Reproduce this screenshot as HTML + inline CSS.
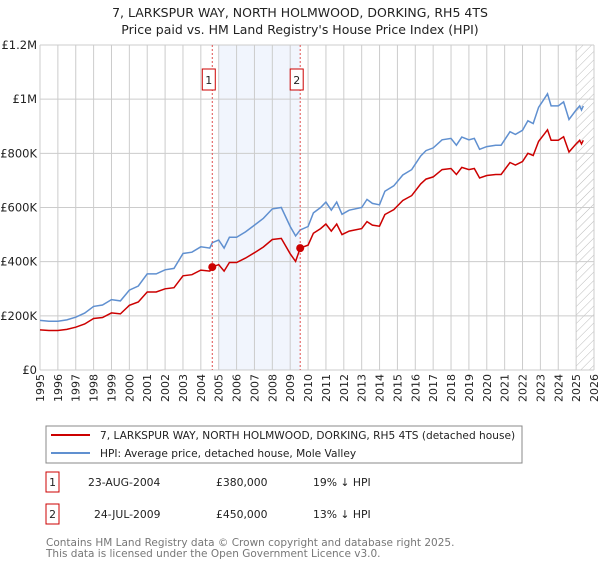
<!DOCTYPE html>
<html><head><meta charset="utf-8"><style>
body{margin:0;background:#fff;font-family:"Liberation Sans","DejaVu Sans",sans-serif;}
svg text{font-family:"DejaVu Sans","Liberation Sans",sans-serif;}
</style></head><body>
<svg id="chart" width="600" height="560" xmlns="http://www.w3.org/2000/svg">
<defs><pattern id="hatch" width="6" height="6" patternUnits="userSpaceOnUse" patternTransform="rotate(45)"><line x1="0" y1="0" x2="0" y2="6" stroke="#bbb" stroke-width="1"/></pattern></defs>
<text x="300" y="17" text-anchor="middle" font-size="12.5" fill="#222">7, LARKSPUR WAY, NORTH HOLMWOOD, DORKING, RH5 4TS</text>
<text x="300" y="34" text-anchor="middle" font-size="12.5" fill="#222">Price paid vs. HM Land Registry's House Price Index (HPI)</text>
<g id="grid"></g><g id="marks"></g><g id="axes"></g>
<g>
<rect x="46" y="426" width="476" height="37" fill="#fff" stroke="#888"/>
<line x1="51" y1="435" x2="90" y2="435" stroke="#cc0000" stroke-width="2"/>
<text x="100" y="439" font-size="10.6" fill="#222">7, LARKSPUR WAY, NORTH HOLMWOOD, DORKING, RH5 4TS (detached house)</text>
<line x1="51" y1="453" x2="90" y2="453" stroke="#6090d0" stroke-width="2"/>
<text x="100" y="457" font-size="10.6" fill="#222">HPI: Average price, detached house, Mole Valley</text>
</g>
<g font-size="10.8" fill="#222">
<rect x="46" y="472" width="13" height="20" fill="#fff" stroke="#cc0000"/><text x="52.5" y="486" text-anchor="middle">1</text>
<text x="88" y="486">23-AUG-2004</text><text x="216" y="486">£380,000</text><text x="313" y="486">19% ↓ HPI</text>
<rect x="46" y="504" width="13" height="20" fill="#fff" stroke="#cc0000"/><text x="52.5" y="518" text-anchor="middle">2</text>
<text x="94" y="518">24-JUL-2009</text><text x="216" y="518">£450,000</text><text x="313" y="518">13% ↓ HPI</text>
</g>
<text x="46" y="546" font-size="10.5" fill="#777">Contains HM Land Registry data © Crown copyright and database right 2025.</text>
<text x="46" y="557" font-size="10.5" fill="#777">This data is licensed under the Open Government Licence v3.0.</text>
</svg>
<script>
const years=[1995.0,1995.5,1996.0,1996.5,1997.0,1997.5,1998.0,1998.5,1999.0,1999.5,2000.0,2000.5,2001.0,2001.5,2002.0,2002.5,2003.0,2003.5,2004.0,2004.5,2004.64,2005.0,2005.3,2005.6,2006.0,2006.5,2007.0,2007.5,2008.0,2008.5,2009.0,2009.3,2009.56,2010.0,2010.3,2010.7,2011.0,2011.3,2011.6,2011.9,2012.3,2013.0,2013.3,2013.6,2014.0,2014.3,2014.8,2015.3,2015.8,2016.3,2016.6,2017.0,2017.5,2018.0,2018.3,2018.6,2019.0,2019.3,2019.6,2020.0,2020.5,2020.8,2021.3,2021.6,2022.0,2022.3,2022.6,2022.9,2023.2,2023.4,2023.6,2024.0,2024.3,2024.6,2025.0,2025.2,2025.3,2025.4];
const hpiValues=[183,180,180,185,195,210,235,240,260,255,295,310,355,355,370,375,430,435,455,450,470,480,450,490,490,510,535,560,595,600,530,495,517,530,580,600,620,590,620,575,590,600,630,615,610,660,680,720,740,790,810,820,850,855,830,860,850,855,815,825,830,830,880,870,885,920,910,970,1000,1020,975,975,990,925,960,975,960,975];
const propertyValues=[148,146,146,150,158,170,190,194,211,207,239,251,288,288,300,304,348,352,369,365,380,389,365,397,397,413,433,454,482,486,429,401,450,461,505,522,539,513,539,500,513,522,548,535,531,574,592,626,644,687,705,713,740,744,722,748,740,744,709,718,722,722,766,757,770,800,792,844,870,887,848,848,861,805,835,848,835,848];
const saleYears=[2004.64,2009.56];
const saleValues=[380,450];
const saleLabels=["1","2"];
const yTicks=[0,200,400,600,800,1000,1200];
const yTickLabels=["£0","£200K","£400K","£600K","£800K","£1M","£1.2M"];
const xStart=1995,xEnd=2026,shadeStart=2005.0,forecastStart=2025.0;
const X0=40,X1=594,Y0=370,Y1=45;
const sx=v=>X0+(v-xStart)/(xEnd-xStart)*(X1-X0);
const sy=v=>Y0-v/1200*(Y0-Y1);
const NS="http://www.w3.org/2000/svg";
function mk(tag,attrs,parent){const e=document.createElementNS(NS,tag);for(const k in attrs)e.setAttribute(k,attrs[k]);document.getElementById(parent).appendChild(e);return e;}
let e=mk('rect',{x:sx(shadeStart),y:Y1,width:sx(saleYears[1])-sx(shadeStart),height:Y0-Y1,fill:'#eef3fc',opacity:0.8},'grid');


e=mk('rect',{x:sx(forecastStart),y:Y1,width:X1-sx(forecastStart),height:Y0-Y1,fill:'url(#hatch)'},'grid');


for(let y=xStart;y<=xEnd;y++){
 e=mk('line',{x1:sx(y),x2:sx(y),y1:Y1,y2:Y0,stroke:'#ccc','stroke-width':1},'grid');
 
 
 e=mk('text',{x:0,y:0,transform:`translate(${sx(y)+4},374) rotate(-90)`,'text-anchor':'end','font-size':11,fill:'#222'},'axes');
 e.textContent=String(y);
 
 
}
yTicks.forEach((t,i)=>{
 e=mk('line',{x1:X0,x2:X1,y1:sy(t),y2:sy(t),stroke:'#ccc','stroke-width':1},'grid');
 
 
 e=mk('text',{x:37,y:sy(t)+4,'text-anchor':'end','font-size':11.5,fill:'#222'},'axes');
 e.textContent=yTickLabels[i];
 
 
});
function path(vals){return vals.map((v,i)=>(i?'L':'M')+sx(years[i]).toFixed(1)+','+sy(v).toFixed(1)).join('');}
e=mk('path',{d:path(hpiValues),fill:'none',stroke:'#6090d0','stroke-width':1.5},'marks');


e=mk('path',{d:path(propertyValues),fill:'none',stroke:'#cc0000','stroke-width':1.5},'marks');


saleYears.forEach((yr,i)=>{
 e=mk('line',{x1:sx(yr),x2:sx(yr),y1:Y1,y2:Y0,stroke:'#e05050','stroke-width':1,'stroke-dasharray':'2,2'},'marks');
 
 
 e=mk('circle',{cx:sx(yr),cy:sy(saleValues[i]),r:4,fill:'#cc0000'},'marks');
 
 
 e=mk('rect',{x:sx(yr)-10,y:69,width:13,height:21,fill:'#fff',stroke:'#cc0000'},'marks');
 
 
 e=mk('text',{x:sx(yr)-3.5,y:84,'text-anchor':'middle','font-size':11,fill:'#222'},'marks');
 e.textContent=saleLabels[i];
 
 
});
</script>
</body></html>
